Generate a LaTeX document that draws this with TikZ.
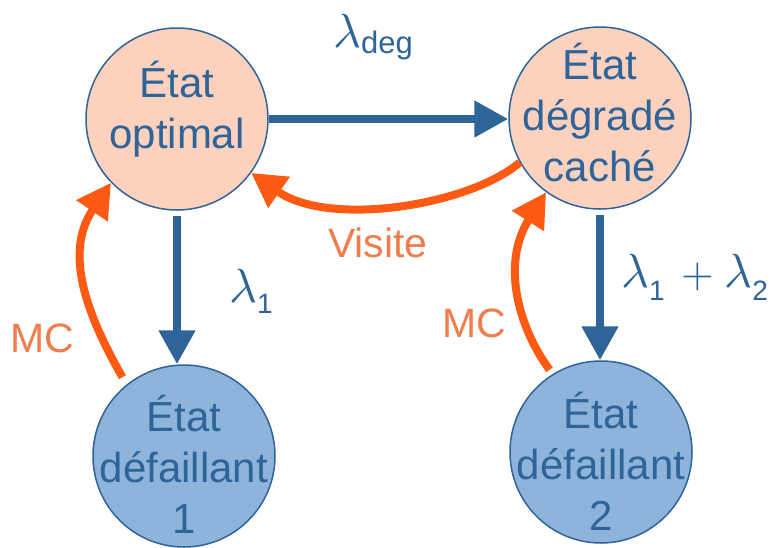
\documentclass[tikz,border=0pt]{standalone}
\usepackage{fontspec}
\usepackage{unicode-math}
\setmainfont{Liberation Sans}
\setmathfont{Latin Modern Math}
\usetikzlibrary{arrows.meta,calc}
\definecolor{dblue}{HTML}{2E6497}
\definecolor{peach}{HTML}{FCD1BE}
\definecolor{lblue}{HTML}{8EB4DC}
\definecolor{orng}{HTML}{FE5A14}
\definecolor{lorng}{HTML}{F07D4B}
\begin{document}
\begin{tikzpicture}[x=1pt,y=-1pt,
  state/.style={circle, draw=dblue, line width=1.5pt, minimum size=182pt, inner sep=0pt},
  topstate/.style={state, fill=peach},
  botstate/.style={state, fill=lblue},
  stext/.style={font=\fontsize{42}{51}\selectfont, text=dblue, align=center, inner sep=0pt, anchor=base},
  barrow/.style={draw=dblue, line width=8pt, -{Triangle[length=34pt,width=35pt]}},
  oarrow/.style={draw=orng, line width=8pt, -{Triangle[length=34pt,width=36pt]}},
  lam/.style={text=dblue, inner sep=0pt, anchor=base west, font=\fontsize{48}{48}\selectfont},
  olab/.style={text=lorng, inner sep=0pt, anchor=base west, font=\fontsize{41}{41}\selectfont},
]
\useasboundingbox (0,0) rectangle (779,547);

% states
\node[topstate] (s1) at (177,119) {};
\node[topstate] (s2) at (600,118) {};
\node[botstate] (s3) at (184,456) {};
\node[botstate] (s4) at (601,452) {};

% state texts (anchor = baseline of last line)
\node[stext] (t1) at (177,148) {État\\optimal};
\node[stext] (t2) at (600,181) {État\\dégradé\\caché};
\node[stext] (t3) at (184,533) {État\\défaillant\\1};
\node[stext] (t4) at (601,530) {État\\défaillant\\2};

% blue transitions
\draw[barrow] (s1.east) -- (s1.east -| s2.west);
\draw[barrow] ([yshift=-5pt]s1.south) -- (s1.south |- s3.north);
\draw[barrow] ([yshift=-5pt]s2.south) -- (s2.south |- s4.north);

% orange transitions
\draw[oarrow] (s2.209) .. controls (470,205) and (330,228) .. (s1.-36);
\draw[oarrow] ([shift={(128:100pt)}]s3.center) .. controls (90,320) and (62,255) .. (s1.224);
\draw[oarrow] ([shift={(122:97pt)}]s4.center) .. controls (520,330) and (500,265) .. (s2.234);

% labels
\node[lam] (ldeg) at (333,47) {$\lambda$\raisebox{-6pt}{\fontsize{31}{31}\selectfont deg}};
\node[lam] (lone) at (229,302) {$\lambda$\raisebox{-11pt}{\fontsize{28}{28}\selectfont 1}};
\node[lam] (lsum) at (621,287) {$\lambda$\raisebox{-13pt}{\fontsize{28}{28}\selectfont 1}\hspace{17pt}{\fontsize{42}{42}\selectfont$+$}\hspace{10pt}$\lambda$\raisebox{-13pt}{\fontsize{28}{28}\selectfont 2}};

\node[olab] (vis) at (328,257) {Visite};
\node[olab] (mc1) at (10,352) {MC};
\node[olab] (mc2) at (442,337) {MC};
\end{tikzpicture}
\end{document}
